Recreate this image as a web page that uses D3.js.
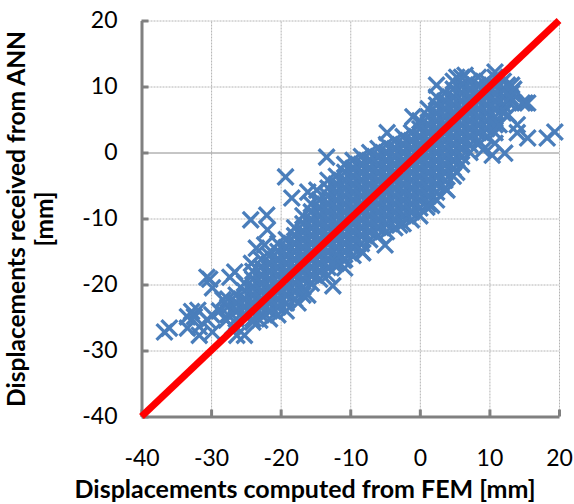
<!DOCTYPE html>
<html>
<head>
<meta charset="utf-8">
<script src="https://cdn.jsdelivr.net/npm/d3@7"></script>
<style>
  html, body { margin: 0; padding: 0; background: #fff; }
  svg { display: block; }
  text { font-family: Lato, "Open Sans", sans-serif; fill: #000; }
</style>
</head>
<body>
<svg id="chart" width="574" height="504"></svg>
<script>
const xTicks = [-40, -30, -20, -10, 0, 10, 20];
const yTicks = [-40, -30, -20, -10, 0, 10, 20];
const identityLine = [-40, 20];

// FEM / ANN displacements. The middle of the cloud is solid
// so it can only be estimated, column by column.
const cloudPoints = [
  [-28.8,-24],
  [-27.6,-22.2],[-27.6,-23.4],[-27.6,-24.6],
  [-26.4,-21.6],[-26.4,-22.8],[-26.4,-24],[-26.4,-25.2],
  [-25.2,-19.8],[-25.2,-21],[-25.2,-22.2],[-25.2,-23.4],[-25.2,-24.6],
  [-24,-18],[-24,-19.2],[-24,-20.4],[-24,-21.6],[-24,-22.8],[-24,-24],[-24,-25.2],
  [-22.8,-16.2],[-22.8,-17.4],[-22.8,-18.6],[-22.8,-19.8],[-22.8,-21],[-22.8,-22.2],[-22.8,-23.4],[-22.8,-24.6],
  [-21.6,-15.6],[-21.6,-16.8],[-21.6,-18],[-21.6,-19.2],[-21.6,-20.4],[-21.6,-21.6],[-21.6,-22.8],[-21.6,-24],[-21.6,-25.2],
  [-20.4,-13.8],[-20.4,-15],[-20.4,-16.2],[-20.4,-17.4],[-20.4,-18.6],[-20.4,-19.8],[-20.4,-21],[-20.4,-22.2],[-20.4,-23.4],[-20.4,-24.6],
  [-19.2,-13.2],[-19.2,-14.4],[-19.2,-15.6],[-19.2,-16.8],[-19.2,-18],[-19.2,-19.2],[-19.2,-20.4],[-19.2,-21.6],[-19.2,-22.8],[-19.2,-24],
  [-18,-11.4],[-18,-12.6],[-18,-13.8],[-18,-15],[-18,-16.2],[-18,-17.4],[-18,-18.6],[-18,-19.8],[-18,-21],[-18,-22.2],
  [-16.8,-9.6],[-16.8,-10.8],[-16.8,-12],[-16.8,-13.2],[-16.8,-14.4],[-16.8,-15.6],[-16.8,-16.8],[-16.8,-18],[-16.8,-19.2],[-16.8,-20.4],[-16.8,-21.6],
  [-15.6,-7.8],[-15.6,-9],[-15.6,-10.2],[-15.6,-11.4],[-15.6,-12.6],[-15.6,-13.8],[-15.6,-15],[-15.6,-16.2],[-15.6,-17.4],[-15.6,-18.6],[-15.6,-19.8],
  [-14.4,-7.2],[-14.4,-8.4],[-14.4,-9.6],[-14.4,-10.8],[-14.4,-12],[-14.4,-13.2],[-14.4,-14.4],[-14.4,-15.6],[-14.4,-16.8],[-14.4,-18],[-14.4,-19.2],
  [-13.2,-4.2],[-13.2,-5.4],[-13.2,-6.6],[-13.2,-7.8],[-13.2,-9],[-13.2,-10.2],[-13.2,-11.4],[-13.2,-12.6],[-13.2,-13.8],[-13.2,-15],[-13.2,-16.2],[-13.2,-17.4],[-13.2,-18.6],
  [-12,-3.6],[-12,-4.8],[-12,-6],[-12,-7.2],[-12,-8.4],[-12,-9.6],[-12,-10.8],[-12,-12],[-12,-13.2],[-12,-14.4],[-12,-15.6],[-12,-16.8],
  [-10.8,-1.8],[-10.8,-3],[-10.8,-4.2],[-10.8,-5.4],[-10.8,-6.6],[-10.8,-7.8],[-10.8,-9],[-10.8,-10.2],[-10.8,-11.4],[-10.8,-12.6],[-10.8,-13.8],[-10.8,-15],[-10.8,-16.2],
  [-9.6,-1.2],[-9.6,-2.4],[-9.6,-3.6],[-9.6,-4.8],[-9.6,-6],[-9.6,-7.2],[-9.6,-8.4],[-9.6,-9.6],[-9.6,-10.8],[-9.6,-12],[-9.6,-13.2],[-9.6,-14.4],[-9.6,-15.6],
  [-8.4,-0.6],[-8.4,-1.8],[-8.4,-3],[-8.4,-4.2],[-8.4,-5.4],[-8.4,-6.6],[-8.4,-7.8],[-8.4,-9],[-8.4,-10.2],[-8.4,-11.4],[-8.4,-12.6],[-8.4,-13.8],[-8.4,-15],
  [-7.2,0],[-7.2,-1.2],[-7.2,-2.4],[-7.2,-3.6],[-7.2,-4.8],[-7.2,-6],[-7.2,-7.2],[-7.2,-8.4],[-7.2,-9.6],[-7.2,-10.8],[-7.2,-12],[-7.2,-13.2],
  [-6,0.6],[-6,-0.6],[-6,-1.8],[-6,-3],[-6,-4.2],[-6,-5.4],[-6,-6.6],[-6,-7.8],[-6,-9],[-6,-10.2],[-6,-11.4],[-6,-12.6],
  [-4.8,1.2],[-4.8,0],[-4.8,-1.2],[-4.8,-2.4],[-4.8,-3.6],[-4.8,-4.8],[-4.8,-6],[-4.8,-7.2],[-4.8,-8.4],[-4.8,-9.6],[-4.8,-10.8],[-4.8,-12],
  [-3.6,1.8],[-3.6,0.6],[-3.6,-0.6],[-3.6,-1.8],[-3.6,-3],[-3.6,-4.2],[-3.6,-5.4],[-3.6,-6.6],[-3.6,-7.8],[-3.6,-9],[-3.6,-10.2],[-3.6,-11.4],
  [-2.4,2.4],[-2.4,1.2],[-2.4,0],[-2.4,-1.2],[-2.4,-2.4],[-2.4,-3.6],[-2.4,-4.8],[-2.4,-6],[-2.4,-7.2],[-2.4,-8.4],[-2.4,-9.6],[-2.4,-10.8],
  [-1.2,3],[-1.2,1.8],[-1.2,0.6],[-1.2,-0.6],[-1.2,-1.8],[-1.2,-3],[-1.2,-4.2],[-1.2,-5.4],[-1.2,-6.6],[-1.2,-7.8],[-1.2,-9],[-1.2,-10.2],
  [0,4.8],[0,3.6],[0,2.4],[0,1.2],[0,0],[0,-1.2],[0,-2.4],[0,-3.6],[0,-4.8],[0,-6],[0,-7.2],[0,-8.4],[0,-9.6],
  [1.2,6.6],[1.2,5.4],[1.2,4.2],[1.2,3],[1.2,1.8],[1.2,0.6],[1.2,-0.6],[1.2,-1.8],[1.2,-3],[1.2,-4.2],[1.2,-5.4],[1.2,-6.6],[1.2,-7.8],
  [2.4,8.4],[2.4,7.2],[2.4,6],[2.4,4.8],[2.4,3.6],[2.4,2.4],[2.4,1.2],[2.4,0],[2.4,-1.2],[2.4,-2.4],[2.4,-3.6],[2.4,-4.8],[2.4,-6],[2.4,-7.2],
  [3.6,9],[3.6,7.8],[3.6,6.6],[3.6,5.4],[3.6,4.2],[3.6,3],[3.6,1.8],[3.6,0.6],[3.6,-0.6],[3.6,-1.8],[3.6,-3],[3.6,-4.2],[3.6,-5.4],
  [4.8,10.8],[4.8,9.6],[4.8,8.4],[4.8,7.2],[4.8,6],[4.8,4.8],[4.8,3.6],[4.8,2.4],[4.8,1.2],[4.8,0],[4.8,-1.2],[4.8,-2.4],[4.8,-3.6],
  [6,11.4],[6,10.2],[6,9],[6,7.8],[6,6.6],[6,5.4],[6,4.2],[6,3],[6,1.8],[6,0.6],[6,-0.6],[6,-1.8],
  [7.2,10.8],[7.2,9.6],[7.2,8.4],[7.2,7.2],[7.2,6],[7.2,4.8],[7.2,3.6],[7.2,2.4],[7.2,1.2],[7.2,0],
  [8.4,11.4],[8.4,10.2],[8.4,9],[8.4,7.8],[8.4,6.6],[8.4,5.4],[8.4,4.2],[8.4,3],[8.4,1.8],
  [9.6,10.8],[9.6,9.6],[9.6,8.4],[9.6,7.2],[9.6,6],[9.6,4.8],[9.6,3.6],[9.6,2.4],
  [10.8,11.4],[10.8,10.2],[10.8,9],[10.8,7.8],[10.8,6.6],[10.8,5.4],[10.8,4.2],[10.8,3],
  [12,10.8],[12,9.6],[12,8.4],[12,7.2],[12,6],[11.4,4.2],[12.6,10.2],[12.6,7.8],
  [13.2,10.2],[13.2,9],[13.2,7.8],[13.5,9.6]
];

const outlierPoints = [
  [-13.4,-0.7],[-19.3,-3.7],[-24.3,-10.2],[-22,-9.5],[-21.9,-11.7],[-23.5,-14.5],[-22.3,-14],[-24.2,-16.8],
  [-30.2,-19.2],[-30.6,-18.9],[-29.8,-20.5],[-27.3,-18.9],[-26.6,-18.1],
  [-32.8,-24.1],[-31.9,-23.9],[-33.4,-24.9],[-32.4,-24.9],[-33.4,-26.6],[-31.7,-27.7],[-31.7,-26.4],
  [-30.5,-25.4],[-29.8,-27.2],[-29.9,-24.6],[-36.7,-27.2],[-36,-26.6],
  [-25.2,-27.7],[-26.3,-27.7],[-26.9,-26.4],[-27.8,-25.4],[-23,-25.4],[-24,-25.7],[-28.3,-22.3],
  [-12.5,-20.2],[-16.1,-21.6],[-17.5,-22.8],[-12.5,-16.8],[-11,-16.3],
  [-4.7,3],[-1,5.4],[15.1,7.5],[14.7,7.5],[15.5,7.5],[14,4.2],[14,3],[15.5,2.2],[18.3,2.2],[19.4,3.1],
  [10.8,1.4],[10.4,-0.4],[12.2,-0.1],[12.7,5.7],[13,8.4],
  [1.7,-8],[1,-8.3],[3.9,-5.7],[5.3,-3],[9.1,0.4],
  [2.4,10.2],[6.5,11.7],[10.8,12.2],[5.3,11.4],
  [-18.4,-6.9],[-16.1,-6],[-14.8,-5.7],
  [-2.9,-11],[-10.8,-17.5],[-5,-14],[-8.2,-15.2]
];

const svg = d3.select("#chart");

const x = d3.scaleLinear().domain([-40, 20]).range([141.5, 559]);
const y = d3.scaleLinear().domain([-40, 20]).range([416.5, 20.5]);

// Grid lines
svg.append("g").attr("class", "grid-x")
    .attr("transform", "translate(0,416.5)")
    .call(d3.axisBottom(x).tickValues(xTicks).tickSize(-396).tickFormat(""))
    .call(g => g.select(".domain").remove())
    .selectAll("line")
    .attr("stroke", "#b4b4b4").attr("stroke-dasharray", "2 1");

svg.append("g").attr("class", "grid-y")
    .attr("transform", "translate(141.5,0)")
    .call(d3.axisLeft(y).tickValues(yTicks).tickSize(-417.5).tickFormat(""))
    .call(g => g.select(".domain").remove())
    .selectAll("line")
    .attr("stroke", d => d === 0 ? "#8c8c8c" : "#b4b4b4")
    .attr("stroke-dasharray", d => d === 0 ? null : "2 1");

// Markers
const marker = d3.symbol().type(d3.symbolX).size(165);

svg.append("g").attr("class", "points")
    .selectAll("path")
    .data(cloudPoints.concat(outlierPoints))
    .join("path")
    .attr("d", marker)
    .attr("transform", d => `translate(${x(d[0])},${y(d[1])})`)
    .attr("fill", "none")
    .attr("stroke", "#4a7ebb")
    .attr("stroke-width", 3.3);

// Axes, plain hyphen on the negative labels like the reference
const xAxis = svg.append("g").attr("class", "axis-x")
    .attr("transform", "translate(0,416.5)")
    .call(d3.axisBottom(x).tickValues(xTicks).tickSizeInner(-7).tickSizeOuter(0).tickPadding(33).tickFormat(String));

const yAxis = svg.append("g").attr("class", "axis-y")
    .attr("transform", "translate(141.5,0)")
    .call(d3.axisLeft(y).tickValues(yTicks).tickSizeInner(-7).tickSizeOuter(0).tickPadding(24).tickFormat(String));

[xAxis, yAxis].forEach(axis => {
  axis.selectAll(".domain, line").attr("stroke", "#808080").attr("stroke-width", 3);
  axis.selectAll("text").attr("font-size", 23).style("font-family", "Lato");
});

// Identity line
svg.append("line")
    .attr("class", "identity")
    .attr("x1", x(identityLine[0])).attr("y1", y(identityLine[0]))
    .attr("x2", x(identityLine[1])).attr("y2", y(identityLine[1]))
    .attr("stroke", "#ff0000")
    .attr("stroke-width", 7);

// Axis titles
svg.append("text")
    .attr("x", 305).attr("y", 498)
    .attr("text-anchor", "middle")
    .attr("font-size", 25).attr("font-weight", 700)
    .text("Displacements computed from FEM [mm]");

svg.append("text")
    .attr("transform", "translate(25,219) rotate(-90)")
    .attr("text-anchor", "middle")
    .attr("font-size", 24.5).attr("font-weight", 700)
    .text("Displacements received from ANN");

svg.append("text")
    .attr("transform", "translate(53,219) rotate(-90)")
    .attr("text-anchor", "middle")
    .attr("font-size", 24.5).attr("font-weight", 700)
    .text("[mm]");
</script>
</body>
</html>
